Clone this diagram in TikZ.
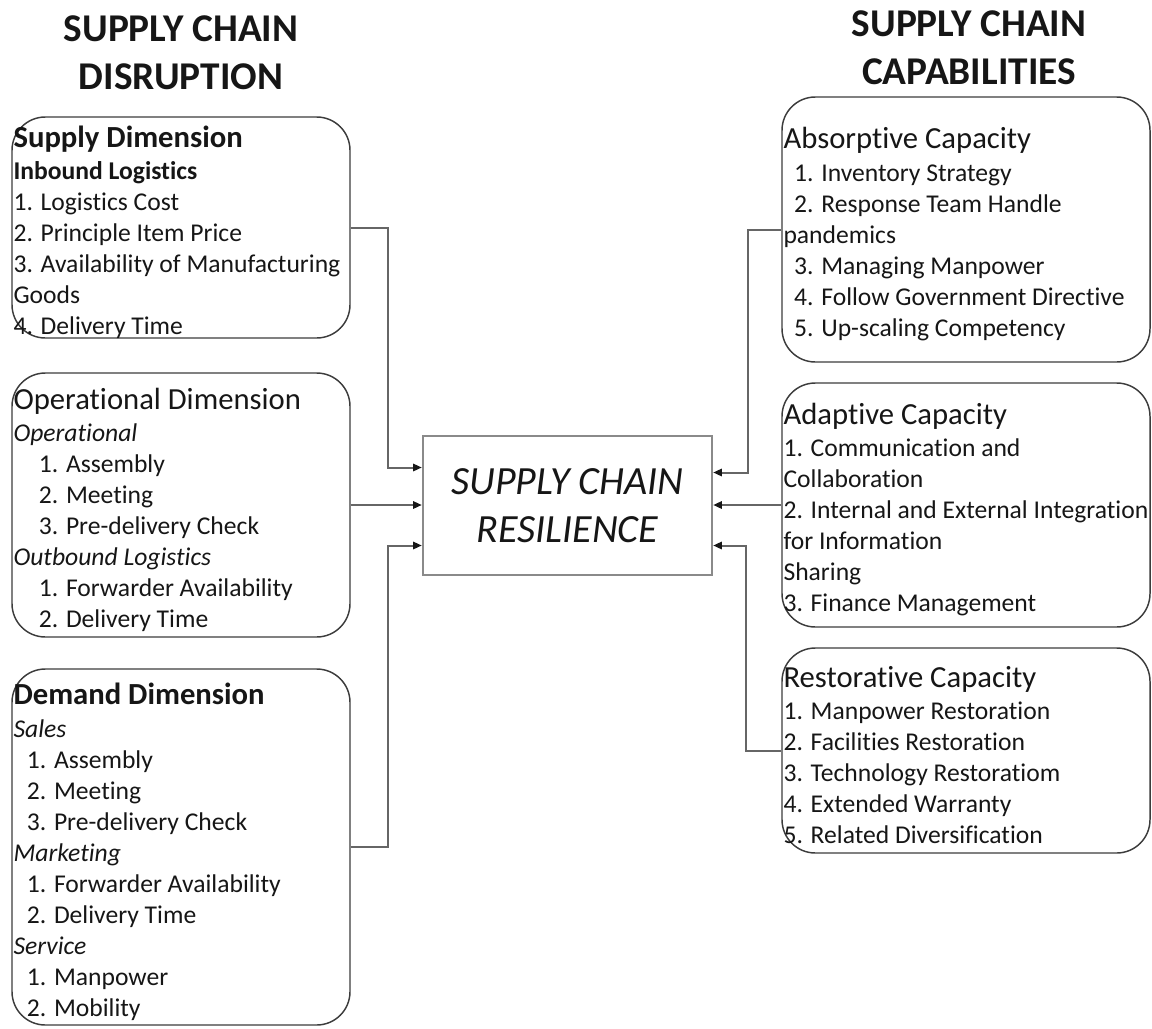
\documentclass[tikz,border=0pt]{standalone}
\usepackage{fontspec}
\setmainfont{Carlito}[Ligatures=NoCommon]
\usetikzlibrary{arrows.meta,positioning,calc}
\definecolor{ink}{HTML}{161616}
\definecolor{boxline}{HTML}{3C3C3C}
\definecolor{resline}{HTML}{8A8A8A}
\definecolor{linkgray}{HTML}{666666}
\newcommand\itemfont{\fontsize{19.2pt}{23.25pt}\selectfont}
\newcommand\boxhead{\fontsize{23pt}{23.25pt}\selectfont}
\newcommand\sidefont{\fontsize{29.5pt}{36pt}\selectfont\bfseries}
\newcommand\resfont{\fontsize{30pt}{36pt}\selectfont\itshape}

\begin{document}
\begin{tikzpicture}[x=0.75pt,y=-0.75pt,
  dimbox/.style={draw=boxline,line width=1.1pt,rounded corners=25pt,minimum width=253.5pt,inner sep=0pt},
  capbox/.style={dimbox,minimum width=276pt},
  boxtext/.style={anchor=west,align=left,inner xsep=1.5pt,inner ysep=0pt,yshift=-3.5pt,text=ink,font=\itemfont},
  sidetitle/.style={align=center,font=\sidefont,text=ink},
  link/.style={draw=linkgray,line width=1.5pt,-{Triangle[length=6.5pt,width=5.5pt,color=ink]}}]
  \useasboundingbox (0,0) rectangle (1152,1028);

  % column titles
  \node[sidetitle] (dis) at (181,53) {SUPPLY CHAIN\\DISRUPTION};
  \node[sidetitle] (cap) at (969,48) {SUPPLY CHAIN\\CAPABILITIES};

  % centre box
  \node[draw=resline,line width=1.8pt,minimum width=216.75pt,minimum height=104.25pt,
        font=\resfont,align=center,text=ink] (res) at (567.5,505.5) {SUPPLY CHAIN\\RESILIENCE};

  % disruption side
  \node[dimbox,minimum height=165.75pt] (sup) at (181,227.5) {};
  \node[boxtext] (sup-t) at (sup.west) {{\boxhead\bfseries Supply Dimension}\\[1pt]
    \textbf{Inbound Logistics}\\
    1. Logistics Cost\\
    2. Principle Item Price\\
    3. Availability of Manufacturing\\
    Goods\\
    4. Delivery Time};

  \node[dimbox,minimum height=198pt] (ops) at (181,505) {};
  \node[boxtext] (ops-t) at (ops.west) {{\boxhead Operational Dimension}\\[1pt]
    \textit{Operational}\\
    \hspace*{19pt}1. Assembly\\
    \hspace*{19pt}2. Meeting\\
    \hspace*{19pt}3. Pre-delivery Check\\
    \textit{Outbound Logistics}\\
    \hspace*{19pt}1. Forwarder Availability\\
    \hspace*{19pt}2. Delivery Time};

  \node[dimbox,minimum height=267pt] (dem) at (181,847) {};
  \node[boxtext] (dem-t) at (dem.west) {{\boxhead\bfseries Demand Dimension}\\[1pt]
    \textit{Sales}\\
    \hspace*{10pt}1. Assembly\\
    \hspace*{10pt}2. Meeting\\
    \hspace*{10pt}3. Pre-delivery Check\\
    \textit{Marketing}\\
    \hspace*{10pt}1. Forwarder Availability\\
    \hspace*{10pt}2. Delivery Time\\
    \textit{Service}\\
    \hspace*{10pt}1. Manpower\\
    \hspace*{10pt}2. Mobility};

  % capability side
  \node[capbox,minimum height=198.75pt] (abs) at (966,229.5) {};
  \node[boxtext] (abs-t) at (abs.west) {{\boxhead Absorptive Capacity}\\[1pt]
    \hspace*{8pt}1. Inventory Strategy\\
    \hspace*{8pt}2. Response Team Handle\\
    pandemics\\
    \hspace*{8pt}3. Managing Manpower\\
    \hspace*{8pt}4. Follow Government Directive\\
    \hspace*{8pt}5. Up-scaling Competency};

  \node[capbox,minimum height=183pt] (ada) at (966,505) {};
  \node[boxtext] (ada-t) at (ada.west) {{\boxhead Adaptive Capacity}\\[1pt]
    1. Communication and\\
    Collaboration\\
    2. Internal and External Integration\\
    for Information\\
    Sharing\\
    3. Finance Management};

  \node[capbox,minimum height=153.75pt] (rst) at (966,750.5) {};
  \node[boxtext] (rst-t) at (rst.west) {{\boxhead Restorative Capacity}\\[1pt]
    1. Manpower Restoration\\
    2. Facilities Restoration\\
    3. Technology Restoratiom\\
    4. Extended Warranty\\
    5. Related Diversification};

  % entry points on the centre box
  \coordinate (resA) at ($(res.west)+(0,-38)$);
  \coordinate (resC) at ($(res.west)+(0,40)$);
  \coordinate (resD) at ($(res.east)+(0,-33)$);
  \coordinate (resF) at ($(res.east)+(0,40)$);

  % connectors
  \draw[link] (sup.east) -- ++(37,0) |- (resA);
  \draw[link] (ops.east) -- (ops.east -| res.west);
  \draw[link] (dem.east) -- ++(37,0) |- (resC);
  \draw[link] (abs.west) -- ++(-33,0) |- (resD);
  \draw[link] (ada.west) -- (ada.west -| res.east);
  \draw[link] (rst.west) -- ++(-35,0) |- (resF);
\end{tikzpicture}
\end{document}
